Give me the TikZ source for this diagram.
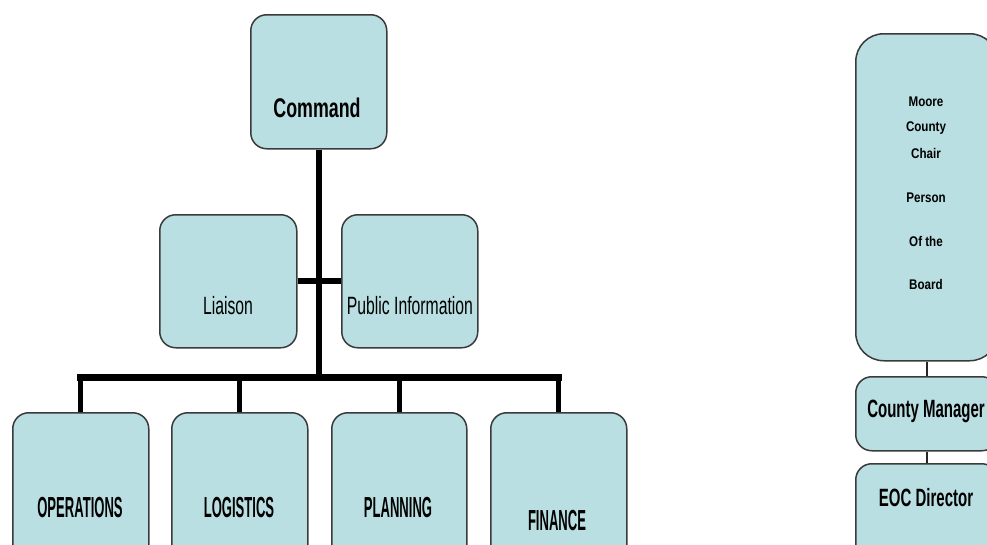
\documentclass[tikz,border=0pt]{standalone}
\usepackage{fontspec}
\setmainfont{Liberation Sans}
\newfontfamily\fCmd[FakeStretch=0.66]{Liberation Sans}
\newfontfamily\fMid[FakeStretch=0.63]{Liberation Sans}
\newfontfamily\fBot[FakeStretch=0.45]{Liberation Sans}
\newfontfamily\fRt[FakeStretch=0.60]{Liberation Sans}
\newfontfamily\fSm[FakeStretch=0.83]{Liberation Sans}
\definecolor{boxfill}{HTML}{B9DFE2}
\definecolor{boxline}{HTML}{3A3A3A}
\tikzset{
  box/.style={draw=boxline, fill=boxfill, line width=1.5pt, rounded corners=16pt,
    inner sep=0pt, anchor=north west, minimum width=136pt},
  bigbox/.style={box, rounded corners=28pt, minimum width=142pt},
  rbox/.style={box, minimum width=142pt},
  lbl/.style={inner sep=0pt, anchor=center},
  cmdfont/.style={font=\fCmd\bfseries\fontsize{27}{30}\selectfont},
  midfont/.style={font=\fMid\fontsize{25}{28}\selectfont},
  botfont/.style={font=\fBot\bfseries\fontsize{29}{32}\selectfont},
  rtfont/.style={font=\fRt\bfseries\fontsize{25}{28}\selectfont},
  smfont/.style={font=\fSm\bfseries\fontsize{14}{16}\selectfont},
  heavy/.style={line width=6pt, black},
  bus/.style={line width=7pt, black, line cap=rect},
  drop/.style={line width=5pt, black},
  thinline/.style={line width=1.5pt, black!85}
}
\begin{document}
\begin{tikzpicture}[x=1pt, y=-1pt]
\useasboundingbox (0,0) rectangle (987,544);
\clip (0,0) rectangle (987,544);
% boxes
\node[box, minimum height=134pt] (cmd) at (250,14) {};
\node[box, minimum width=137pt, minimum height=133pt] (lia) at (159,214) {};
\node[box, minimum height=133pt] (pi) at (341,214) {};
\node[box, minimum height=150pt] (ops) at (12,412) {};
\node[box, minimum height=150pt] (log) at (171,412) {};
\node[box, minimum width=135pt, minimum height=150pt] (plan) at (331,412) {};
\node[box, minimum height=150pt] (fin) at (490,412) {};
\node[bigbox, minimum height=327pt] (moore) at (855,33) {};
\node[rbox, minimum height=74pt] (cm) at (855,376) {};
\node[rbox, minimum height=100pt] (eoc) at (855,463) {};
% labels
\node[lbl, cmdfont] (cmdT) at (317,108) {Command};
\node[lbl, midfont] (liaT) at (228,306) {Liaison};
\node[lbl, midfont] (piT) at (410,306) {Public Information};
\node[lbl, botfont] (opsT) at (80,508) {OPERATIONS};
\node[lbl, botfont] (logT) at (239,508) {LOGISTICS};
\node[lbl, botfont] (planT) at (398,508) {PLANNING};
\node[lbl, botfont] (finT) at (557,521) {FINANCE};
\node[lbl, smfont] (m1) at (926,102) {Moore};
\node[lbl, smfont] (m2) at (926,128) {County};
\node[lbl, smfont] (m3) at (926,153) {Chair};
\node[lbl, smfont] (m4) at (926,198) {Person};
\node[lbl, smfont] (m5) at (926,241) {Of the};
\node[lbl, smfont] (m6) at (926,284) {Board};
\node[lbl, rtfont] (cmT) at (926,411) {County Manager};
\node[lbl, rtfont] (eocT) at (926,498) {EOC Director};
% connectors
\coordinate (busY) at (0,377);
\draw[heavy] (cmd.south) -- (cmd.south |- busY);
\draw[heavy] (lia.east) -- (pi.west);
\draw[bus] (ops.north |- busY) -- (fin.north |- busY);
\draw[drop] (ops.north |- busY) -- (ops.north);
\draw[drop] (log.north |- busY) -- (log.north);
\draw[drop] (plan.north |- busY) -- (plan.north);
\draw[drop] (fin.north |- busY) -- (fin.north);
\draw[thinline] (moore.south) -- (cm.north);
\draw[thinline] (cm.south) -- (eoc.north);
\end{tikzpicture}
\end{document}
